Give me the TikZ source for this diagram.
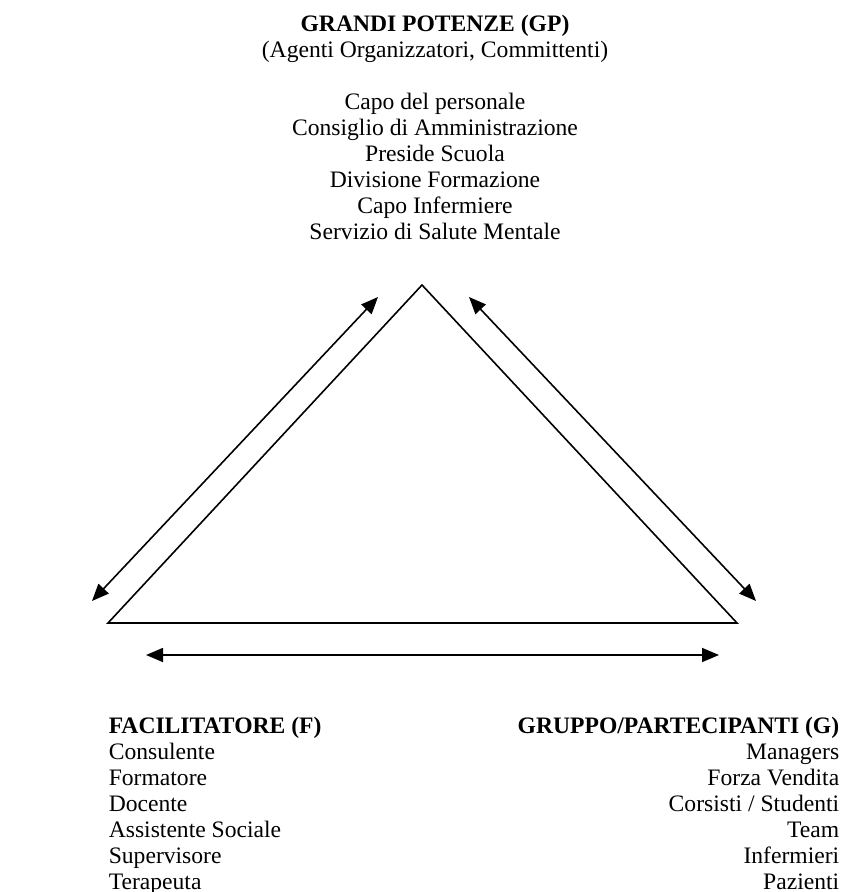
\documentclass[tikz,border=0pt]{standalone}
\usepackage{fontspec}
\setmainfont{Liberation Serif}
\usetikzlibrary{arrows.meta}
\begin{document}
\begin{tikzpicture}[x=0.5pt, y=-0.5pt, line width=0.8pt,
  twoway/.style={{Triangle[length=8.5pt,width=7pt]}-{Triangle[length=8.5pt,width=7pt]}},
  roletext/.style={inner sep=0pt, font=\fontsize{11.8}{13}\selectfont}]
\useasboundingbox (0,0) rectangle (842,892);
%corners of the triangle
\coordinate (GP) at (422,285);
\coordinate (F) at (108,623);
\coordinate (G) at (737,623);
%ends of the arrows
\coordinate (A1) at (378,297);
\coordinate (A2) at (92,601);
\coordinate (B1) at (469,297);
\coordinate (B2) at (756,601);
\coordinate (C1) at (146,655);
\coordinate (C2) at (719,655);
%draw triangle
\draw (GP) -- (F) -- (G) -- cycle;
%draw arrows
\draw [twoway] (A1) -- (A2);
\draw [twoway] (B1) -- (B2);
\draw [twoway] (C1) -- (C2);
%the three parties
\node [roletext, anchor=north, align=center] (gptext) at (435,14)
  {\textbf{GRANDI POTENZE (GP)}\\ (Agenti Organizzatori, Committenti)\\[13pt]
   Capo del personale\\ Consiglio di Amministrazione\\ Preside Scuola\\
   Divisione Formazione\\ Capo Infermiere\\ Servizio di Salute Mentale};
\node [roletext, anchor=north west, align=left] (ftext) at (108,716)
  {\textbf{FACILITATORE (F)}\\ Consulente\\ Formatore\\ Docente\\
   Assistente Sociale\\ Supervisore\\ Terapeuta};
\node [roletext, anchor=north east, align=right] (gtext) at (840,716)
  {\textbf{GRUPPO/PARTECIPANTI (G)}\\ Managers\\ Forza Vendita\\
   Corsisti / Studenti\\ Team\\ Infermieri\\ Pazienti};
\end{tikzpicture}
\end{document}
